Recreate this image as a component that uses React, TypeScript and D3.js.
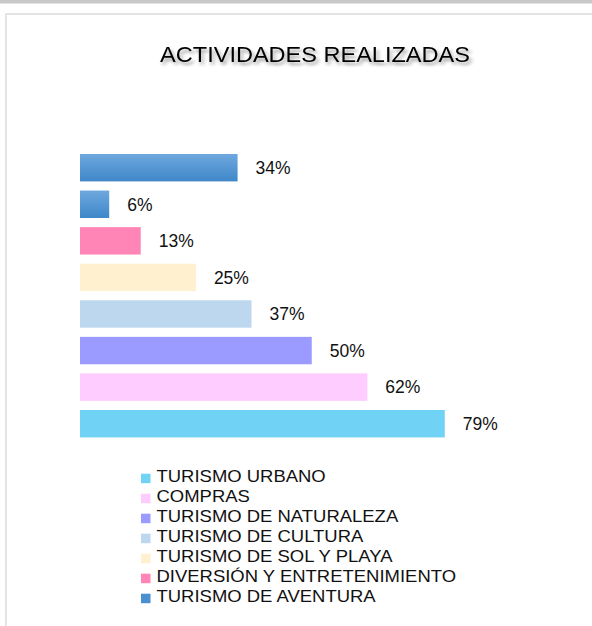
import React from 'react'
import * as d3 from 'd3'

// bars from top to bottom
const categories = [
  'OTROS',
  'TURISMO DE AVENTURA',
  'DIVERSIÓN Y ENTRETENIMIENTO',
  'TURISMO DE SOL Y PLAYA',
  'TURISMO DE CULTURA',
  'TURISMO DE NATURALEZA',
  'COMPRAS',
  'TURISMO URBANO',
]
const values = [34, 6.3, 13.1, 25, 37, 50, 62, 78.7]
const labels = ['34%', '6%', '13%', '25%', '37%', '50%', '62%', '79%']
const colors = ['url(#blueGrad)', 'url(#blueGrad)', '#ff85b6', '#fff0cf', '#bdd7ee', '#9b9bff', '#ffccff', '#70d2f5']

const legendNames = [
  'TURISMO URBANO',
  'COMPRAS',
  'TURISMO DE NATURALEZA',
  'TURISMO DE CULTURA',
  'TURISMO DE SOL Y PLAYA',
  'DIVERSIÓN Y ENTRETENIMIENTO',
  'TURISMO DE AVENTURA',
]
const legendColors = ['#70d2f5', '#ffccff', '#9b9bff', '#bdd7ee', '#fff0cf', '#ff85b6', '#4a8fd0']

const W = 592
const H = 626
const font = '"Liberation Sans", Arial, sans-serif'

export default function App() {
  const x = d3.scaleLinear().domain([0, 100]).range([80, 543.5])
  const y = d3.scaleBand<string>()
    .domain(categories)
    .range([149.4, 442])
    .paddingInner(0.25)
    .paddingOuter(0.125)

  return (
    <svg width={W} height={H} style={{ position: 'absolute', left: 0, top: 0, background: '#fff' }}>
      <defs>
        <linearGradient id="blueGrad" x1="0" y1="0" x2="0" y2="1">
          <stop offset="0" stopColor="#6ea8de" />
          <stop offset="1" stopColor="#3f87c9" />
        </linearGradient>
        <filter id="shadow" x="-10%" y="-50%" width="120%" height="200%">
          <feDropShadow dx="2" dy="3" stdDeviation="1.8" floodColor="#000" floodOpacity="0.4" />
        </filter>
      </defs>

      {/* window chrome */}
      <rect x={0} y={0} width={W} height={3} fill="#c8c8c8" />
      <rect x={0} y={3} width={W} height={1} fill="#e2e2e2" />
      <path d={`M6,${H} V14 H${W}`} fill="none" stroke="#e4e4e4" strokeWidth={2} />

      <text
        transform="translate(315,62) scale(1.07,1)"
        textAnchor="middle"
        fontFamily={font}
        fontSize={22}
        fill="#000"
        filter="url(#shadow)"
      >
        ACTIVIDADES REALIZADAS
      </text>

      {categories.map((c, i) => (
        <g key={c}>
          <rect
            x={x(0)}
            y={y(c)}
            width={x(values[i]) - x(0)}
            height={y.bandwidth()}
            fill={colors[i]}
          />
          <text
            x={x(values[i]) + 18}
            y={(y(c) as number) + y.bandwidth() / 2 + 6.3}
            fontFamily={font}
            fontSize={17.5}
            fill="#111"
          >
            {labels[i]}
          </text>
        </g>
      ))}

      {legendNames.map((name, i) => {
        const base = 481.7 + i * 20
        return (
          <g key={name}>
            <rect x={141} y={base - 8} width={9.5} height={9.5} fill={legendColors[i]} />
            <text
              transform={`translate(156.5,${base}) scale(1.155,1)`}
              fontFamily={font}
              fontSize={16}
              fill="#111"
            >
              {name}
            </text>
          </g>
        )
      })}
    </svg>
  )
}
